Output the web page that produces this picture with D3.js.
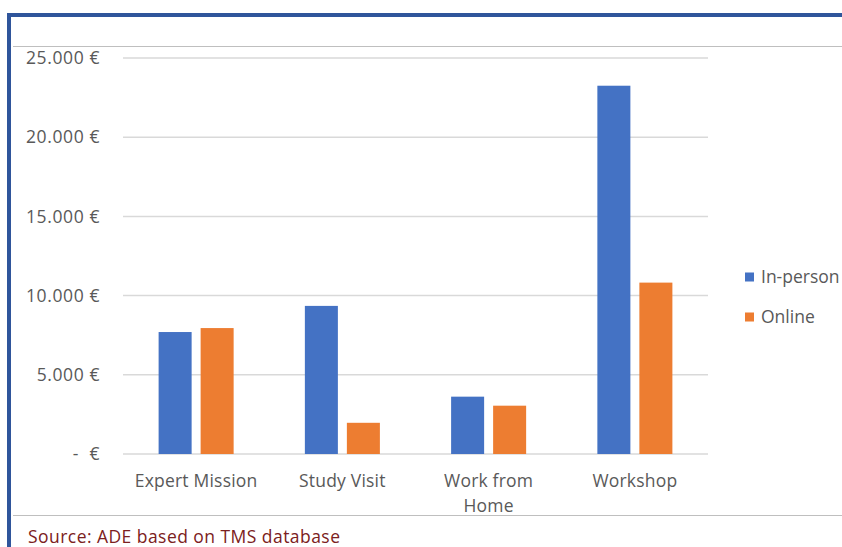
<!DOCTYPE html>
<html><head><meta charset="utf-8">
<script src="https://cdn.jsdelivr.net/npm/d3@7"></script>
<style>body{margin:0;background:#fff;}svg{display:block;}</style>
</head><body>
<script>
const categories = ["Expert Mission", "Study Visit", "Work from Home", "Workshop"];
const seriesNames = ["In-person", "Online"];
const inPerson = [7700, 9350, 3620, 23250];
const online = [7950, 1970, 3050, 10820];
const yTicks = [0, 5000, 10000, 15000, 20000, 25000];
const yTickLabels = ["-  €", "5.000 €", "10.000 €", "15.000 €", "20.000 €", "25.000 €"];
const colors = ["#4472C4", "#ED7D31"];

const W = 842, H = 547;
const svg = d3.select("body").append("svg").attr("width", W).attr("height", H);
const font = "'Open Sans', 'Noto Sans', sans-serif";
const fs = 17.5;

// frame
svg.append("rect").attr("x", 9).attr("y", 15).attr("width", W).attr("height", 600)
  .attr("fill", "none").attr("stroke", "#2F559B").attr("stroke-width", 4);
svg.append("line").attr("x1", 13).attr("x2", W).attr("y1", 46.5).attr("y2", 46.5)
  .attr("stroke", "#BFBFBF").attr("stroke-width", 1.2);
svg.append("line").attr("x1", 13).attr("x2", W).attr("y1", 515.5).attr("y2", 515.5)
  .attr("stroke", "#BFBFBF").attr("stroke-width", 1.2);

const x0 = d3.scaleBand().domain(categories).range([123, 708]).paddingInner(0.487).paddingOuter(0.2435);
const x1 = d3.scaleBand().domain(seriesNames).range([0, x0.bandwidth()]).paddingInner(0.214).paddingOuter(0);
const y = d3.scaleLinear().domain([0, 25000]).range([454, 58]);

// gridlines
svg.append("g").selectAll("line").data(yTicks).join("line")
  .attr("x1", 123).attr("x2", 708)
  .attr("y1", d => y(d)).attr("y2", d => y(d))
  .attr("stroke", "#D9D9D9").attr("stroke-width", 1.5);

// y labels
svg.append("g").selectAll("text").data(yTicks).join("text")
  .attr("x", 100).attr("y", d => y(d)).attr("dy", "0.35em")
  .attr("text-anchor", "end").attr("font-family", font).attr("font-size", fs)
  .attr("letter-spacing", 0.6)
  .attr("fill", "#595959").attr("xml:space", "preserve")
  .text((d, i) => yTickLabels[i]);

// bars
const series = [inPerson, online];
const g = svg.append("g");
categories.forEach((c, ci) => {
  seriesNames.forEach((s, si) => {
    const v = series[si][ci];
    g.append("rect")
      .attr("x", x0(c) + x1(s)).attr("width", x1.bandwidth())
      .attr("y", y(v)).attr("height", y(0) - y(v))
      .attr("fill", colors[si]);
  });
});

// x labels
const xl = svg.append("g");
categories.forEach(c => {
  const cx = x0(c) + x0.bandwidth() / 2;
  const lines = c === "Work from Home" ? ["Work from", "Home"] : [c];
  lines.forEach((ln, li) => {
    xl.append("text").attr("x", cx).attr("y", 481 + li * 25).attr("dy", "0.35em")
      .attr("text-anchor", "middle").attr("font-family", font).attr("font-size", fs)
      .attr("letter-spacing", 0.2)
      .attr("fill", "#595959").text(ln);
  });
});

// legend
const leg = svg.append("g");
seriesNames.forEach((s, i) => {
  const ly = 277 + i * 40;
  leg.append("rect").attr("x", 745).attr("y", ly - 4.5).attr("width", 9).attr("height", 9).attr("fill", colors[i]);
  leg.append("text").attr("x", 761).attr("y", ly).attr("dy", "0.35em")
    .attr("font-family", font).attr("font-size", fs).attr("fill", "#595959").text(s);
});

// source
svg.append("text").attr("x", 28).attr("y", 537).attr("dy", "0.35em")
  .attr("font-family", font).attr("font-size", 17.5).attr("letter-spacing", 0.45)
  .attr("fill", "#7B2020")
  .text("Source: ADE based on TMS database");
</script>
</body></html>
